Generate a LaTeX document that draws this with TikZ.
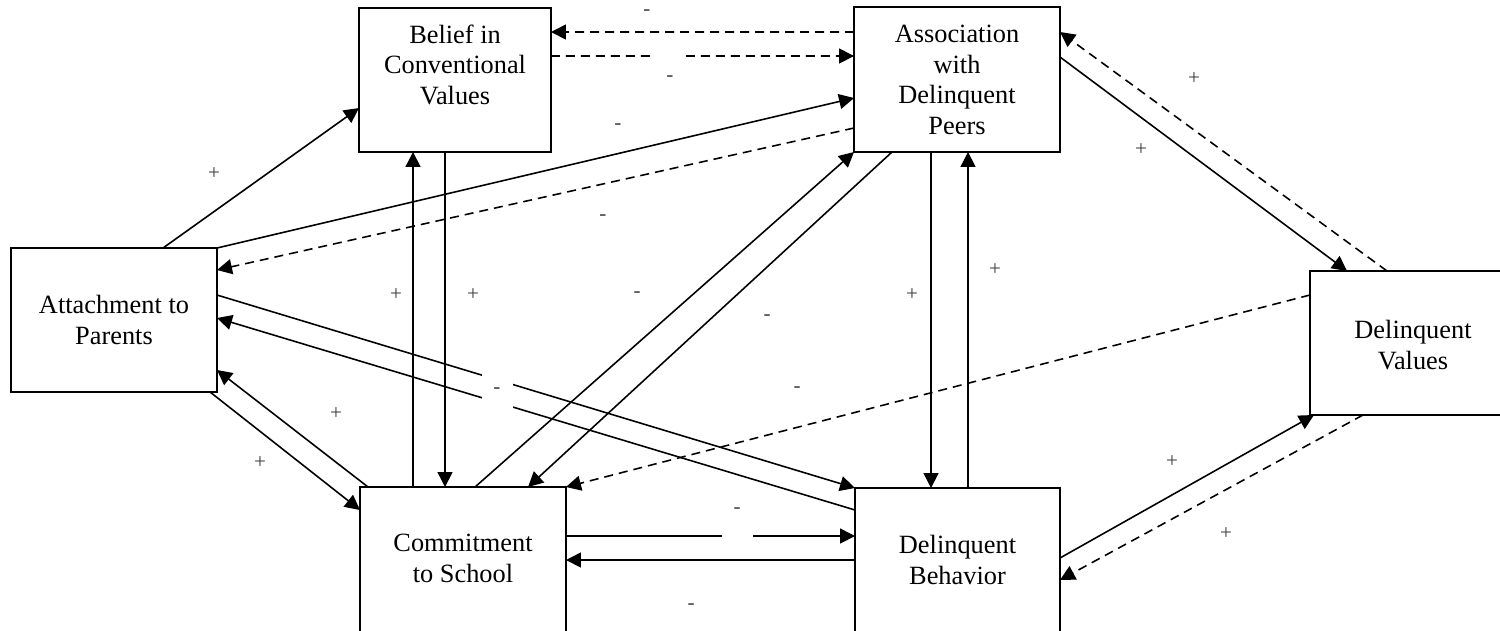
\documentclass[tikz,border=0pt]{standalone}
\usepackage{fontspec}
\setmainfont{Liberation Serif}
\usetikzlibrary{arrows.meta,calc}
\newcommand{\boxtext}[4]{\parbox[c][#2][t]{#1}{\centering\vspace*{#3}#4}}

\begin{document}
\begin{tikzpicture}[x=0.02cm,y=-0.02cm,>={Triangle[length=0.3cm,width=0.3cm]},
 factorbox/.style={draw,line width=1.1pt,inner sep=0pt,outer sep=0pt,font=\fontsize{15}{17.5}\selectfont},
 solidarr/.style={->,line width=0.9pt},
 dasharr/.style={->,line width=0.9pt,dash pattern=on 0.18cm off 0.12cm},
 sign/.style={font=\fontsize{12}{14}\selectfont,text=black!75,inner sep=1pt},
 gapbox/.style={fill=white,minimum width=0.62cm}]
 \useasboundingbox (0,0) rectangle (1500,631);
 \clip (0,0) rectangle (1500,631);
 % the six factors
 \node[factorbox] (P) at (114,320) {\boxtext{4.12cm}{2.88cm}{0.94cm}{Attachment to\\Parents}};
 \node[factorbox] (B) at (455,80) {\boxtext{3.84cm}{2.88cm}{0.33cm}{Belief in\\Conventional\\Values}};
 \node[factorbox] (A) at (957,79.5) {\boxtext{4.12cm}{2.9cm}{0.36cm}{Association\\with\\Delinquent\\Peers}};
 \node[factorbox] (C) at (463,567) {\boxtext{4.12cm}{3.2cm}{0.94cm}{Commitment\\to School}};
 \node[factorbox] (D) at (957.5,568) {\boxtext{4.1cm}{3.2cm}{0.94cm}{Delinquent\\Behavior}};
 \node[factorbox] (V) at (1413,343) {\boxtext{4.12cm}{2.88cm}{0.98cm}{Delinquent\\Values}};
 % paths
 \draw[solidarr] ($(P.north west)+(152,0)$) -- ($(B.north west)+(0,100)$);
 \draw[dasharr] ($(A.north west)+(0,25)$) -- ($(B.north east)+(0,24)$);
 \draw[dasharr] ($(B.north east)+(0,48)$) -- ($(A.north west)+(0,49)$);
 \draw[solidarr] (P.north east) -- ($(A.north west)+(0,91)$);
 \draw[dasharr] ($(A.north west)+(0,121)$) -- ($(P.north east)+(0,22)$);
 \draw[solidarr] ($(B.south west)+(86,0)$) -- ($(C.north west)+(85,0)$);
 \draw[solidarr] ($(C.north west)+(53,0)$) -- ($(B.south west)+(54,0)$);
 \draw[solidarr] ($(P.north east)+(0,47)$) -- (D.north west);
 \draw[solidarr] ($(D.north west)+(0,22)$) -- ($(P.north east)+(0,70)$);
 \draw[solidarr] ($(P.south west)+(199,0)$) -- ($(C.north west)+(0,23)$);
 \draw[solidarr] ($(C.north west)+(8,0)$) -- ($(P.south east)+(0,-22)$);
 \draw[solidarr] ($(C.north west)+(115,0)$) -- (A.south west);
 \draw[solidarr] ($(A.south west)+(38,0)$) -- ($(C.north west)+(168,0)$);
 \draw[dasharr] ($(V.north west)+(0,24)$) -- (C.north east);
 \draw[solidarr] ($(A.south west)+(77,0)$) -- ($(D.north west)+(76,0)$);
 \draw[solidarr] ($(D.north west)+(113,0)$) -- ($(A.south west)+(114,0)$);
 \draw[solidarr] ($(A.north east)+(0,50)$) -- ($(V.north west)+(37,0)$);
 \draw[dasharr] ($(V.north west)+(77,0)$) -- ($(A.north east)+(0,25)$);
 \draw[solidarr] ($(C.north east)+(0,49)$) -- ($(D.north west)+(0,48)$);
 \draw[solidarr] ($(D.north west)+(0,72)$) -- ($(C.north east)+(0,73)$);
 \draw[solidarr] ($(D.north east)+(0,70)$) -- ($(V.south west)+(4,0)$);
 \draw[dasharr] ($(V.south west)+(53,0)$) -- ($(D.north east)+(0,92)$);
 % signs
 \node[sign] (s1) at (214,174) {+};
 \node[sign] (s2) at (647,13) {-};
 \node[sign,gapbox,anchor=south,text height=0.6cm] (s3) at (670,84) {-};
 \node[sign] (s4) at (618,127) {-};
 \node[sign] (s5) at (603,218) {-};
 \node[sign] (s6) at (396,295) {+};
 \node[sign] (s7) at (473,295) {+};
 \node[sign] (s8) at (637,295) {-};
 \node[sign] (s9) at (767,318) {-};
 \node[sign,gapbox,minimum height=0.8cm] (s10) at (497,391) {-};
 \node[sign] (s11) at (797,390) {-};
 \node[sign] (s12) at (336,414) {+};
 \node[sign] (s13) at (260,463) {+};
 \node[sign] (s14) at (912,295) {+};
 \node[sign] (s15) at (995,270) {+};
 \node[sign] (s16) at (1141,150) {+};
 \node[sign] (s17) at (1194,79) {+};
 \node[sign] (s18) at (1172,462) {+};
 \node[sign] (s19) at (1226,534) {+};
 \node[sign,gapbox,anchor=north,text depth=0.55cm] (s20) at (737,506) {-};
 \node[sign] (s21) at (691,607) {-};
\end{tikzpicture}
\end{document}
